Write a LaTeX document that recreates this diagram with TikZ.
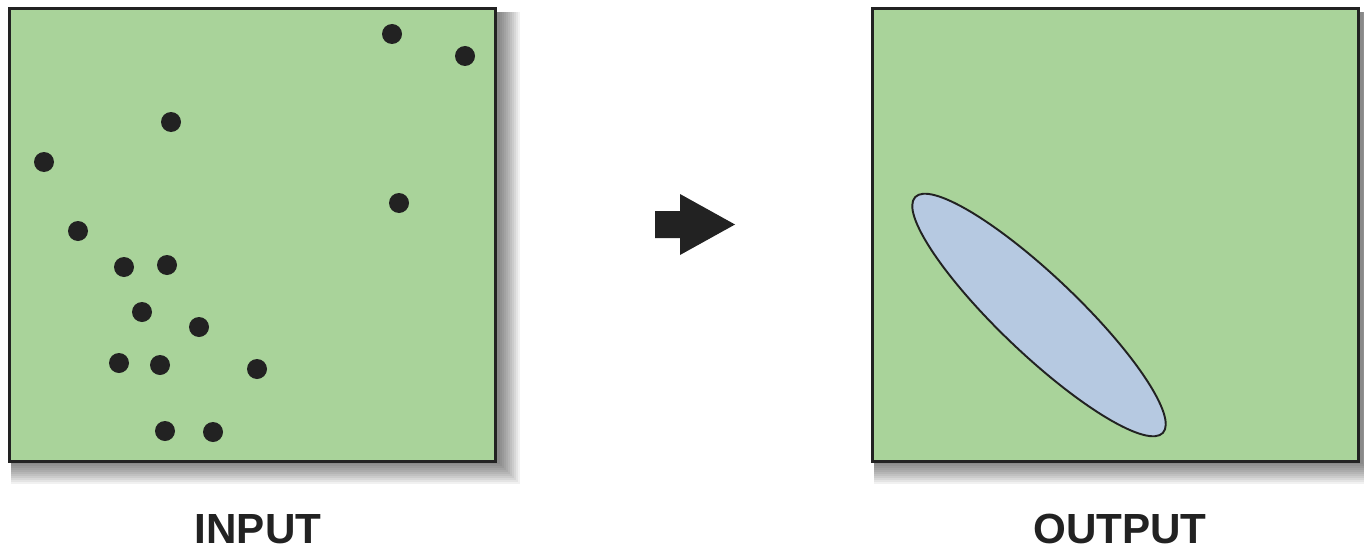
\documentclass[tikz,border=0pt]{standalone}
\usepackage{fontspec}
\setmainfont{Liberation Sans}
\usetikzlibrary{arrows.meta,positioning,calc}
\definecolor{mapGreen}{HTML}{A9D39A}
\definecolor{mapBlue}{HTML}{B6C9E1}
\definecolor{mapInk}{HTML}{222222}
\tikzset{
  panel/.style={draw=mapInk,line width=1.7pt,fill=mapGreen,minimum width=9.72cm,minimum height=9.07cm,inner sep=0pt},
  pt/.style={fill=mapInk},
  lbl/.style={font=\fontsize{24}{28}\selectfont\bfseries,text=mapInk,anchor=base}
}

\begin{document}
\begin{tikzpicture}[x=0.02cm,y=-0.02cm]
  \useasboundingbox (0,0) rectangle (1364,554);
  % soft shadows behind the panels
  \foreach \xa in {8,871}{
    \foreach \i in {0,...,10}
      \fill[black,opacity=0.055] (\xa+3,12) rectangle (\xa+492+2*\i,464+2*\i);}
  % panels
  \node[panel] (inbox) at (252.5,234.75) {};
  \node[panel] (outbox) at (1115.5,234.75) {};
  % input points
  \foreach \x/\y in {392/34, 465/56, 171/122, 44/162, 399/203, 78/231, 124/267, 167/265,
                     142/312, 199/327, 119/363, 160/365, 257/369, 165/431, 213/432}
    \fill[pt] (\x,\y) circle (10);
  % output ellipse
  \draw[fill=mapBlue,draw=mapInk,line width=1.1pt,rotate around={-43.6:(1039,315)}]
    (1039,315) ellipse [x radius=171, y radius=39];
  % arrow between the panels
  \fill[mapInk] (655,211) -- (680,211) -- (680,194) -- (735,224.5) -- (680,255) -- (680,238) -- (655,238) -- cycle;
  % labels
  \node[lbl] (inlbl) at (258,543) {INPUT};
  \node[lbl] (outlbl) at (1120,543) {OUTPUT};
\end{tikzpicture}
\end{document}
